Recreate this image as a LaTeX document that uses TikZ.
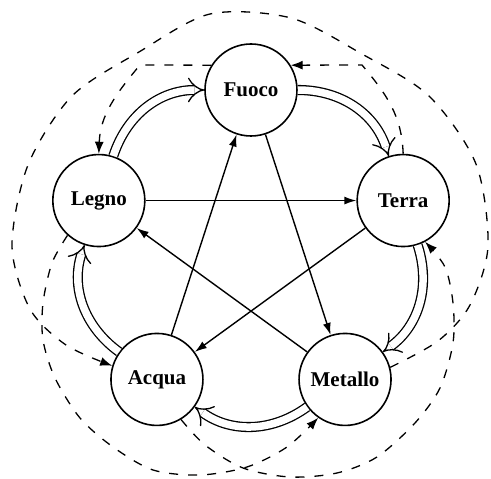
\documentclass[tikz,border=0pt]{standalone}
\usepackage{fontspec}
\setmainfont{Liberation Serif}
\usetikzlibrary{arrows.meta,calc}
\begin{document}
\begin{tikzpicture}[x=1pt,y=1pt,
  elem/.style={circle, draw, line width=1.6pt, minimum size=92pt, inner sep=0pt,
    font=\fontsize{21}{24}\selectfont\bfseries},
  ke/.style={line width=1.4pt, -{Latex[length=12pt,width=8pt]}},
  sheng/.style={double, double distance=7.5pt, line width=1.3pt, -{Implies}, bend left=36},
  rev/.style={line width=1.3pt, dash pattern=on 9pt off 10pt, -{Latex[length=12pt,width=9pt]}},
]
\useasboundingbox (0,0) rectangle (491,479);
\coordinate (C) at (251,229);
\node[elem] (fuoco)   at ($(C)+(90:160)$)  {Fuoco};
\node[elem] (legno)   at ($(C)+(162:160)$) {Legno};
\node[elem] (terra)   at ($(C)+(18:160)$)  {Terra};
\node[elem] (acqua)   at ($(C)+(234:160)$) {Acqua};
\node[elem] (metallo) at ($(C)+(306:160)$) {Metallo};

% generating cycle (double arrows)
\draw[sheng] (legno) to (fuoco);
\draw[sheng] (fuoco) to (terra);
\draw[sheng] (terra) to (metallo);
\draw[sheng] (metallo) to (acqua);
\draw[sheng] (acqua) to (legno);

% controlling star
\draw[ke] (legno) -- (terra);
\draw[ke] (terra) -- (acqua);
\draw[ke] (acqua) -- (fuoco);
\draw[ke] (fuoco) -- (metallo);
\draw[ke] (metallo) -- (legno);

% dashed curves
\coordinate (fl) at (140,414);
\coordinate (tf) at (362,414);
\draw[rev] (fuoco.148) -- (fl) to[out=230, in=88] (legno.north);
\draw[rev] (terra.north) to[out=92, in=-50] (tf) -- (fuoco.32);
\draw[rev] plot[smooth] coordinates {(acqua.-59) (205,34) (243,11) (290,2) (337,6) (377,22) (415,56) (440,91) (453,136) (453,176) (445,212) (terra.-62)};
\draw[rev] plot[smooth] coordinates {(legno.228) (52,216) (43,176) (43,139) (55,101) (80,61) (113,32) (153,9) (200,4) (247,12) (287,32) (metallo.235)};
\draw[rev] plot[smooth] coordinates {(metallo.15) (438,138) (470,174) (488,233) (476,315) (429,383) (362,425) (291,461) (210,465) (139,427) (72,383) (28,314) (12,233) (30,170) (66,134) (acqua.163)};
\end{tikzpicture}
\end{document}
